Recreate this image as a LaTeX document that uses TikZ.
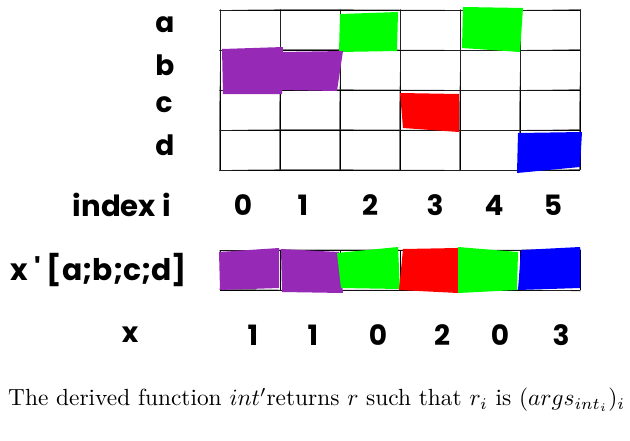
\documentclass[tikz,border=0pt]{standalone}
\usepackage{graphicx}
\usepackage{fontspec}
\newfontfamily\hand{Poppins}
\definecolor{cpurple}{RGB}{150,42,182}
\definecolor{cgreen}{RGB}{0,255,0}
\definecolor{cred}{RGB}{255,0,0}
\definecolor{cblue}{RGB}{0,0,255}
\begin{document}
\begin{tikzpicture}[x=1pt,y=-1pt,
  lbl/.style={font=\hand\bfseries\fontsize{28}{32}\selectfont, inner sep=0pt},
  gridline/.style={line width=0.8pt, black},
  sketch/.style={line width=0.5pt, black!80}]
\useasboundingbox (0,0) rectangle (630,440);
% grid
\foreach \x in {220,280,340,400,460,520,580} {
  \draw[gridline] (\x,10) -- (\x,170);
  \draw[sketch] (\x+0.5,9) .. controls (\x+1.5,50) and (\x-1.5,120) .. (\x-0.5,171);
}
\foreach \y in {10,50,90,130,170} {
  \draw[gridline] (220,\y) -- (580,\y);
  \draw[sketch] (219,\y+0.5) .. controls (330,\y-2) and (470,\y+2) .. (581,\y-0.5);
}
% coloured cells in grid
\fill[cgreen] (340,14) -- (398,12) -- (397,51) -- (339,52) -- cycle;
\fill[cgreen] (463,7) -- (523,8) -- (520,52) -- (462,48) -- cycle;
\fill[cpurple] (222,49) -- (283,47) -- (282,94) -- (223,94) -- cycle;
\fill[cpurple] (280,52) -- (343,51) -- (337,91) -- (280,90) -- cycle;
\fill[cred] (400,93) -- (459,94) -- (459,132) -- (403,128) -- cycle;
\fill[cblue] (518,133) -- (582,132) -- (580,167) -- (517,173) -- cycle;
% row labels
\node[lbl] (la) at (165,25) {a};
\node[lbl] (lb) at (165,65) {b};
\node[lbl] (lc) at (164,105) {c};
\node[lbl] (ld) at (165,145) {d};
% index
\node[lbl,anchor=east] (idx) at (171,205) {\resizebox{98pt}{!}{index i}};
\node[lbl] (i0) at (243,205) {0};
\node[lbl] (i1) at (303,205) {1};
\node[lbl] (i2) at (370,205) {2};
\node[lbl] (i3) at (435,205) {3};
\node[lbl] (i4) at (494,205) {4};
\node[lbl] (i5) at (553,205) {5};
% bar
\foreach \x in {220,280,340,400,460,520,580} {
  \draw[gridline] (\x,250) -- (\x,290);
}
\draw[gridline] (220,250) -- (580,250);
\draw[gridline] (220,290) -- (580,290);
\draw[sketch] (219,251) .. controls (330,248) and (470,252) .. (581,249);
\draw[sketch] (219,289) .. controls (330,292) and (470,288) .. (581,291);
\fill[cpurple] (219,252) -- (279,248) -- (279,288) -- (220,290) -- cycle;
\fill[cpurple] (281,249) -- (339,252) -- (343,293) -- (282,292) -- cycle;
\fill[cgreen] (337,253) -- (398,247) -- (400,289) -- (341,288) -- cycle;
\fill[cred] (403,249) -- (458,248) -- (458,293) -- (399,290) -- cycle;
\fill[cgreen] (458,247) -- (518,252) -- (517,290) -- (458,293) -- cycle;
\fill[cblue] (521,250) -- (580,247) -- (580,288) -- (518,290) -- cycle;
\node[lbl,anchor=west] (xp) at (10,270) {\resizebox{177pt}{!}{x ' [a;b;c;d]}};
% x values
\node[lbl] (xl) at (130,335) {x};
\node[lbl] (v0) at (253,335) {1};
\node[lbl] (v1) at (313,335) {1};
\node[lbl] (v2) at (378,335) {0};
\node[lbl] (v3) at (442,335) {2};
\node[lbl] (v4) at (500,335) {0};
\node[lbl] (v5) at (561,335) {3};
% caption
\node[inner sep=0pt,anchor=west] (cap) at (8,400) {\resizebox{617pt}{!}{The derived function $int'$returns $r$ such that $r_i$ is $(args_{int_i})_i$}};
\end{tikzpicture}
\end{document}
